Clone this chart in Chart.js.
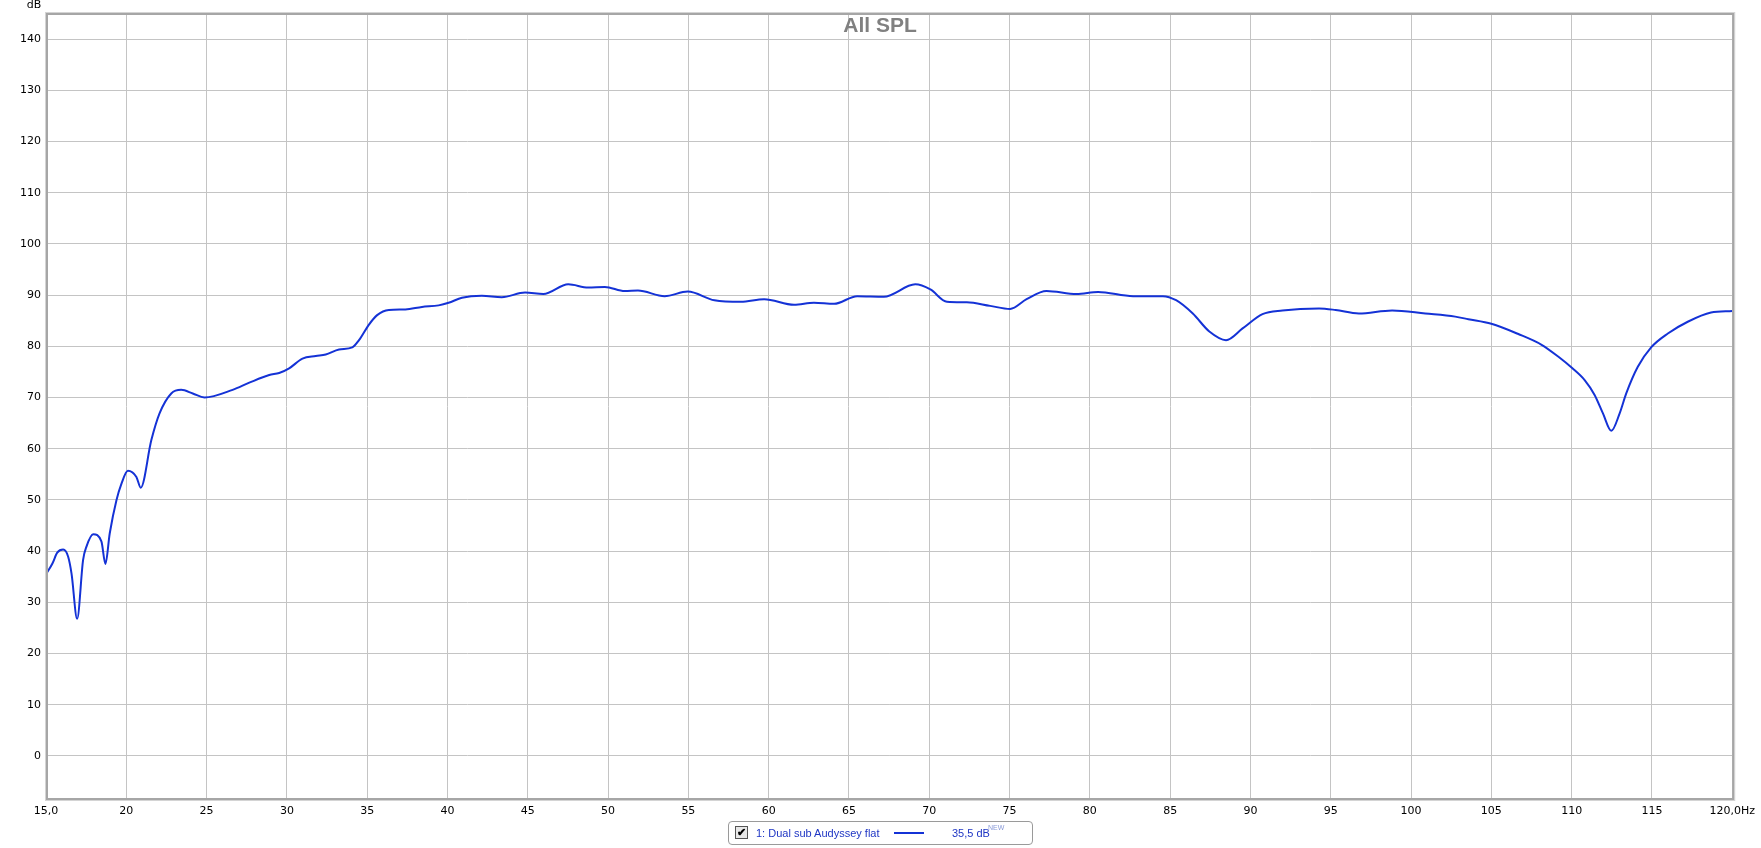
<!DOCTYPE html>
<html>
<head>
<meta charset="utf-8">
<script src="https://cdn.jsdelivr.net/npm/chart.js@4/dist/chart.umd.min.js"></script>
<style>
  body { margin: 0; background: #fff; font-family: "DejaVu Sans", sans-serif; }
  #wrap { position: relative; width: 1761px; height: 848px; }
  #legend {
    position: absolute; left: 728px; top: 821px; width: 303px; height: 22px;
    border: 1px solid #9a9a9a; border-radius: 4px; background: #fff;
    font-family: "Liberation Sans", Arial, sans-serif;
    font-size: 11px; color: #1f36c4; white-space: nowrap;
  }
  #legend span { position: absolute; top: 0; line-height: 22px; }
  #legend .chk {
    left: 6px; top: 4px; width: 11px; height: 11px;
    border: 1px solid #555; background: #e8e8e8; color: #000;
    font-size: 11px; line-height: 11px; text-align: center; font-weight: bold;
  }
  #legend .name { left: 27px; }
  #legend .swatch { left: 165px; top: 10px; width: 30px; height: 2px; background: #1432d6; line-height: 2px; }
  #legend .val { left: 223px; }
  #legend .sup { left: 259px; top: -5px; font-size: 7px; color: #8a9ad8; }
</style>
</head>
<body>
<div id="wrap">
  <canvas id="chart" width="1761" height="848"></canvas>
  <div id="legend">
    <span class="chk">✔</span>
    <span class="name">1: Dual sub Audyssey flat</span>
    <span class="swatch"></span>
    <span class="val">35,5 dB</span>
    <span class="sup">NEW</span>
  </div>
</div>
<script>
const freqHz = [15.0, 15.4, 15.7, 16.07, 16.38, 16.59, 16.94, 17.31, 17.52, 17.94, 18.45, 18.7, 18.97, 19.39, 19.7, 20.1, 20.63, 20.9,
  21.56, 22.07, 22.8, 23.42, 24.14, 24.87, 26.62, 27.66, 28.9, 29.52, 30.14, 30.97, 31.8, 32.42, 33.25, 34.07, 34.49, 35.1, 35.62,
  36.35, 37.38, 38.41, 39.45, 40.07, 40.9, 42.14, 43.38, 44.83, 45.97, 47.52, 48.76, 49.8, 51.04, 51.86, 53.52, 54.96, 56.62, 58.27,
  59.72, 61.58, 62.82, 64.07, 65.51, 67.17, 69.13, 70.07, 71.1, 72.34, 73.79, 75.03, 76.06, 77.3, 79.17, 80.51, 82.69, 84.55, 85.37,
  86.41, 87.44, 88.48, 89.51, 90.75, 91.99, 94.27, 95.3, 96.75, 98.82, 100.89, 102.75, 103.57, 105.0, 106.68, 108.13, 109.16, 110.05,
  110.81, 111.43, 111.95, 112.47, 112.99, 113.4, 114.12, 114.95, 115.99, 117.23, 118.68, 120.0];
const splDb = [35.5, 37.6, 39.7, 40.3, 38.9, 35.6, 26.8, 38.3, 40.9, 43.3, 41.9, 37.5, 43.5, 50.0, 53.2, 55.7, 54.5, 52.4,
  61.7, 66.9, 70.8, 71.5, 70.8, 70.0, 71.5, 72.9, 74.4, 74.8, 75.7, 77.6, 78.1, 78.4, 79.4, 79.8, 81.2, 84.2, 86.1,
  87.1, 87.2, 87.7, 88.0, 88.5, 89.5, 89.9, 89.6, 90.5, 90.2, 92.1, 91.5, 91.6, 90.8, 90.9, 89.8, 90.7, 89.0, 88.7,
  89.2, 88.1, 88.5, 88.3, 89.8, 89.7, 92.1, 91.1, 88.7, 88.6, 87.9, 87.3, 89.2, 90.8, 90.2, 90.6, 89.8, 89.8, 89.0,
  86.4, 82.9, 81.2, 83.5, 86.3, 87.0, 87.4, 87.1, 86.4, 87.0, 86.4, 85.8, 85.3, 84.4, 82.4, 80.3, 78.0, 75.7,
  73.4, 70.5, 66.9, 63.5, 66.9, 70.8, 76.0, 79.8, 82.5, 84.8, 86.6, 86.9];

const xTicks = [15, 20, 25, 30, 35, 40, 45, 50, 55, 60, 65, 70, 75, 80, 85, 90, 95, 100, 105, 110, 115, 120];
const yTicks = [0, 10, 20, 30, 40, 50, 60, 70, 80, 90, 100, 110, 120, 130, 140];
const titleText = 'All SPL';

const tickFont = { family: 'DejaVu Sans', size: 11 };

const frame = {
  id: 'frame',
  afterDraw(chart) {
    const { ctx, chartArea: a } = chart;
    ctx.save();
    // shadowed frame round the plot
    ctx.strokeStyle = '#d4d4d4';
    ctx.lineWidth = 1;
    ctx.strokeRect(a.left - 0.5, a.top - 1.5, a.right - a.left + 3, a.bottom - a.top + 3);
    ctx.strokeStyle = '#a6a6a6';
    ctx.lineWidth = 2;
    ctx.strokeRect(a.left + 1, a.top, a.right - a.left, a.bottom - a.top);
    // title
    ctx.fillStyle = '#808080';
    ctx.font = 'bold 21px "Liberation Sans", Arial, sans-serif';
    ctx.textAlign = 'center';
    ctx.textBaseline = 'middle';
    ctx.fillText(titleText, 880, 26);
    // unit label
    ctx.fillStyle = '#000';
    ctx.font = '11px "DejaVu Sans", sans-serif';
    ctx.fillText('dB', 34, 5);
    ctx.restore();
  }
};

new Chart(document.getElementById('chart'), {
  type: 'scatter',
  data: {
    datasets: [{
      label: '1: Dual sub Audyssey flat',
      data: freqHz.map((f, i) => ({ x: f, y: splDb[i] })),
      showLine: true,
      borderColor: '#1432d6',
      borderWidth: 2,
      pointRadius: 0,
      tension: 0.4,
      cubicInterpolationMode: 'monotone'
    }]
  },
  options: {
    responsive: false,
    animation: false,
    layout: { padding: { top: 14, right: 23, bottom: 0, left: 0 } },
    plugins: { legend: { display: false }, tooltip: { enabled: false } },
    scales: {
      x: {
        type: 'linear', min: 15, max: 120,
        afterBuildTicks: s => { s.ticks = xTicks.map(v => ({ value: v })); },
        afterFit: s => { s.height = 49; },
        border: { display: false },
        grid: { color: '#c4c4c4', drawTicks: false },
        ticks: {
          color: '#000', font: tickFont, padding: 6, maxRotation: 0, autoSkip: false,
          callback: v => v === 15 ? '15,0' : v === 120 ? '120,0Hz' : String(v)
        }
      },
      y: {
        min: -8.4, max: 144.9,
        afterBuildTicks: s => { s.ticks = yTicks.map(v => ({ value: v })); },
        afterFit: s => { s.width = 46; },
        border: { display: false },
        grid: { color: '#c4c4c4', drawTicks: false },
        ticks: { color: '#000', font: tickFont, padding: 5 }
      }
    }
  },
  plugins: [frame]
});
</script>
</body>
</html>
